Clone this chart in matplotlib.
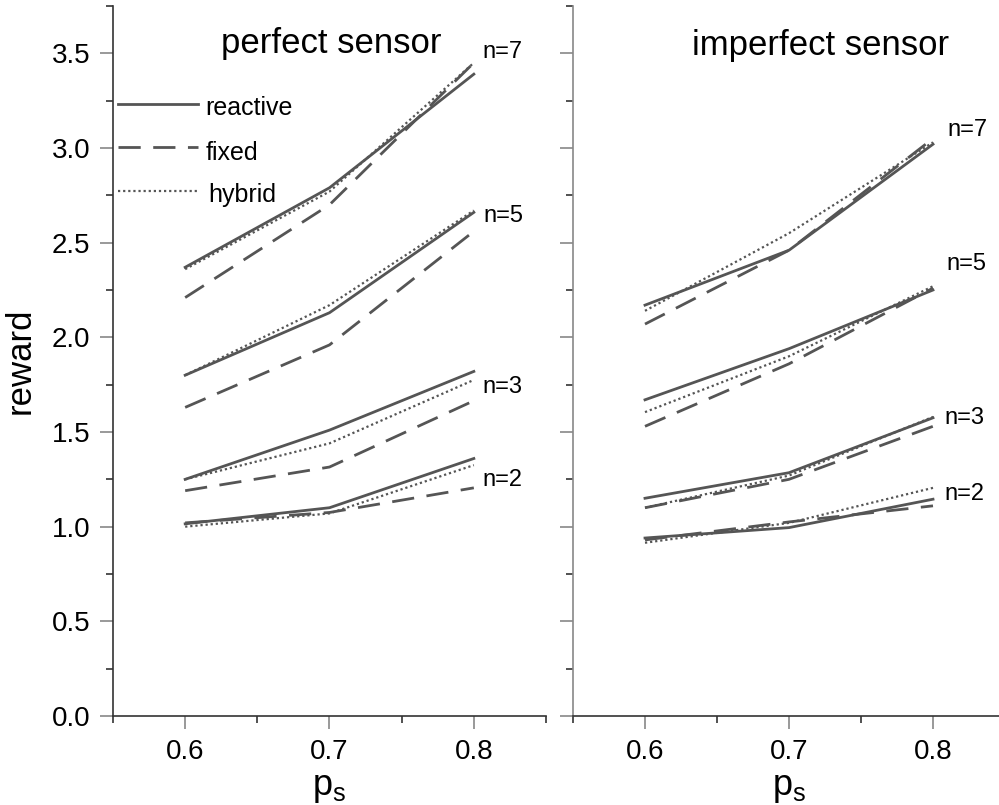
import matplotlib
matplotlib.use("Agg")
import matplotlib.pyplot as plt
from matplotlib.ticker import MultipleLocator, FormatStrFormatter

plt.rcParams['font.family'] = ['Liberation Sans', 'DejaVu Sans']
plt.rcParams['mathtext.fontset'] = 'custom'
plt.rcParams['mathtext.rm'] = 'Liberation Sans'

ps = [0.6, 0.7, 0.8]
n_values = [7, 5, 3, 2]

# perfect sensor
perfect_reactive = {7: [2.37, 2.79, 3.39], 5: [1.80, 2.13, 2.66],
                    3: [1.25, 1.51, 1.82], 2: [1.015, 1.10, 1.36]}
perfect_fixed = {7: [2.21, 2.70, 3.45], 5: [1.63, 1.96, 2.56],
                 3: [1.19, 1.315, 1.665], 2: [1.02, 1.075, 1.205]}
perfect_hybrid = {7: [2.36, 2.77, 3.45], 5: [1.80, 2.17, 2.67],
                  3: [1.25, 1.44, 1.775], 2: [1.00, 1.07, 1.325]}

# imperfect sensor
imperfect_reactive = {7: [2.17, 2.46, 3.02], 5: [1.67, 1.94, 2.25],
                      3: [1.15, 1.285, 1.575], 2: [0.94, 0.995, 1.145]}
imperfect_fixed = {7: [2.07, 2.46, 3.05], 5: [1.53, 1.86, 2.26],
                   3: [1.10, 1.25, 1.53], 2: [0.93, 1.025, 1.11]}
imperfect_hybrid = {7: [2.14, 2.55, 3.03], 5: [1.605, 1.90, 2.27],
                    3: [1.10, 1.27, 1.58], 2: [0.915, 1.02, 1.205]}

# baseline anchor (x, y) of each "n=" label
perfect_label_pos = {7: (0.806, 3.475), 5: (0.807, 2.61), 3: (0.806, 1.708), 2: (0.806, 1.215)}
imperfect_label_pos = {7: (0.810, 3.063), 5: (0.809, 2.355), 3: (0.808, 1.542), 2: (0.808, 1.14)}

series_names = ['reactive', 'fixed', 'hybrid']

line_color = '#555555'
styles = {
    'reactive': dict(color=line_color, lw=2.0, linestyle='-'),
    'fixed': dict(color=line_color, lw=2.0, linestyle=(0, (8, 4.5))),
    'hybrid': dict(color=line_color, lw=1.6, linestyle=(0, (1, 1.3))),
}

fig = plt.figure(figsize=(9.99, 8.05), dpi=100)
ax1 = fig.add_axes([113 / 999, 1 - 716 / 805, 433 / 999, 710 / 805])
ax2 = fig.add_axes([573 / 999, 1 - 716 / 805, 432 / 999, 710 / 805])


def draw_panel(ax, reactive, fixed, hybrid, label_pos, title, title_x, title_y, spine_color):
    for n in n_values:
        ax.plot(ps, reactive[n], **styles['reactive'])
        ax.plot(ps, fixed[n], **styles['fixed'])
        ax.plot(ps, hybrid[n], **styles['hybrid'])
        x, y = label_pos[n]
        ax.text(x, y, f'n={n}', fontsize=17, ha='left', va='baseline')
    ax.set_xlim(0.55, 0.85)
    ax.set_ylim(0, 3.75)
    ax.spines['top'].set_visible(False)
    ax.spines['right'].set_visible(False)
    ax.spines['left'].set_color(spine_color)
    ax.spines['bottom'].set_color('#333333')
    ax.spines['left'].set_linewidth(1.2)
    ax.spines['bottom'].set_linewidth(1.2)
    ax.xaxis.set_major_locator(MultipleLocator(0.1))
    ax.xaxis.set_minor_locator(MultipleLocator(0.05))
    ax.yaxis.set_major_locator(MultipleLocator(0.5))
    ax.yaxis.set_minor_locator(MultipleLocator(0.25))
    ax.set_xticks([0.6, 0.7, 0.8])
    ax.xaxis.set_major_formatter(FormatStrFormatter('%.1f'))
    ax.tick_params(axis='both', which='major', direction='out', length=9.4,
                   width=1.2, color='#888888', labelsize=20, pad=7)
    ax.tick_params(axis='both', which='minor', direction='out', length=5,
                   width=1.2, color='#333333')
    ax.set_xlabel(r'$\mathregular{p_s}$', fontsize=26)
    ax.xaxis.set_label_coords(0.5, -0.076)
    ax.text(title_x, title_y, title, transform=ax.transAxes,
            fontsize=25, ha='center', va='baseline')


draw_panel(ax1, perfect_reactive, perfect_fixed, perfect_hybrid,
           perfect_label_pos, 'perfect sensor', 0.503, 0.934, '#333333')
draw_panel(ax2, imperfect_reactive, imperfect_fixed, imperfect_hybrid,
           imperfect_label_pos, 'imperfect sensor', 0.572, 0.931, '#888888')

ax1.yaxis.set_major_formatter(FormatStrFormatter('%.1f'))
ax1.set_ylabel('reward', fontsize=25)
ax1.yaxis.set_label_coords(-0.1755, 0.5)
ax2.tick_params(axis='y', which='both', labelleft=False)

# legend: sample line plus label, rows stacked in axes coordinates
legend_line_y = [0.862, 0.801, 0.739]
legend_text_y = [0.846, 0.783, 0.724]
legend_text_x = [0.213, 0.213, 0.219]
for name, ly, ty, tx in zip(series_names, legend_line_y, legend_text_y, legend_text_x):
    ax1.plot([0.0115, 0.196], [ly, ly], transform=ax1.transAxes, **styles[name])
    ax1.text(tx, ty, name, transform=ax1.transAxes, fontsize=18,
             ha='left', va='baseline')

fig.savefig('out.png', dpi=100)
